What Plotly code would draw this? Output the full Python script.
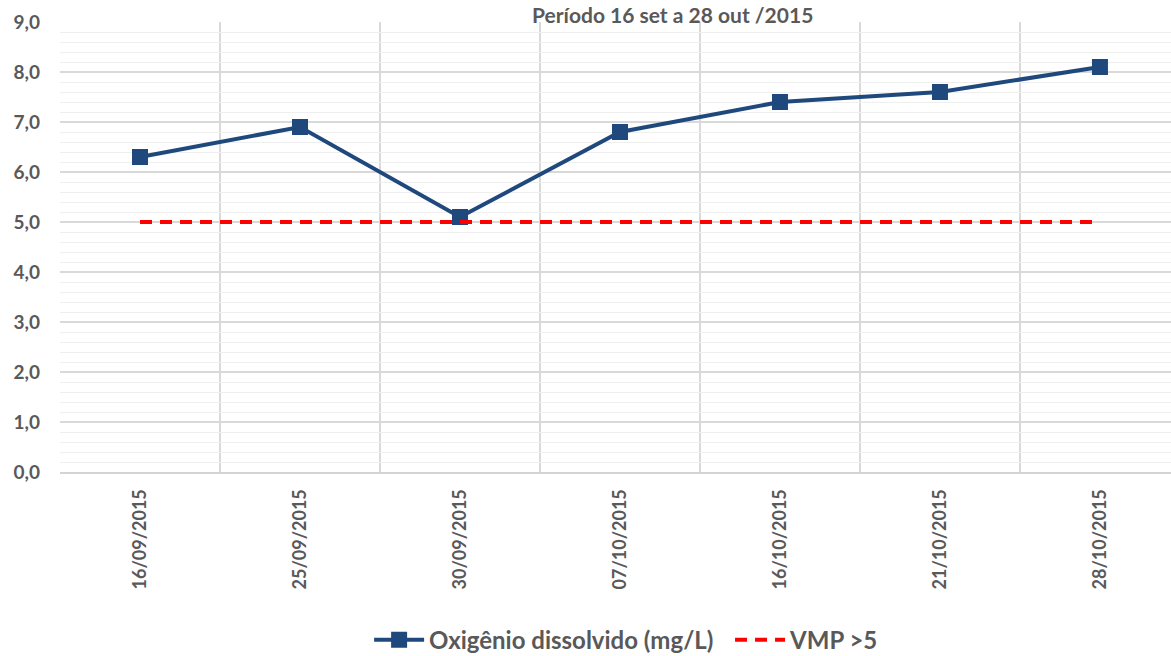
import plotly.graph_objects as go

dates = ["16/09/2015", "25/09/2015", "30/09/2015", "07/10/2015",
         "16/10/2015", "21/10/2015", "28/10/2015"]
oxigenio = [6.3, 6.9, 5.1, 6.8, 7.4, 7.6, 8.1]
vmp = [5, 5, 5, 5, 5, 5, 5]
y_ticks = [0, 1, 2, 3, 4, 5, 6, 7, 8, 9]

FONT = "Lato"
TXT = "#595959"
xs = list(range(len(dates)))

fig = go.Figure()
fig.add_trace(go.Scatter(
    x=xs, y=oxigenio, mode="lines+markers", name="Oxigênio dissolvido (mg/L)&nbsp;&nbsp;",
    line=dict(color="#1f497d", width=4),
    marker=dict(symbol="square", size=16, color="#1f497d"),
))
fig.add_trace(go.Scatter(
    x=xs, y=vmp, mode="lines", name="VMP >5",
    line=dict(color="#ff0000", width=4, dash="12px,8px"),
))

fig.update_layout(
    width=1171, height=656,
    margin=dict(l=60, r=0, t=22, b=184),
    plot_bgcolor="white", paper_bgcolor="white",
    separators=",.",
    font=dict(family=FONT, color=TXT),
    showlegend=True,
    legend=dict(orientation="h", x=0.51, xanchor="center",
                yref="container", y=0.024, yanchor="middle",
                font=dict(family=FONT, size=24, color=TXT, weight="bold"),
                itemwidth=50),
    annotations=[dict(text="<b>Período 16 set a 28 out /2015</b>", xref="paper", yref="paper",
                      x=0.551, y=1.049, xanchor="center", yanchor="top", showarrow=False,
                      font=dict(family=FONT, size=21, color=TXT))],
)

fig.update_xaxes(
    range=[-0.5, 6.444], tickmode="array", tickvals=xs, ticktext=dates,
    tickangle=-90, tickfont=dict(family=FONT, size=18, color=TXT, weight="bold"),
    showgrid=False, zeroline=False, ticks="", ticklabelstandoff=8, automargin=False,
    showline=True, linecolor="#d4d4d4", linewidth=2,
    minor=dict(tickvals=[i - 0.5 for i in range(len(dates) + 1)], showgrid=True,
               gridcolor="#d9d9d9", gridwidth=1.5, ticks=""),
)
fig.update_yaxes(
    range=[0, 9], tickmode="array", tickvals=y_ticks, tickformat=".1f",
    tickfont=dict(family=FONT, size=19, color=TXT, weight="bold"),
    showgrid=True, gridcolor="#d9d9d9", gridwidth=1.5, zeroline=False, automargin=False,
    ticks="", ticklabelstandoff=19,
    minor=dict(dtick=0.2, tick0=0, showgrid=True, gridcolor="#efefef", gridwidth=1, ticks=""),
)

fig.write_html("out.html", config={"displayModeBar": False},
               post_script="document.body.style.margin='0';")
